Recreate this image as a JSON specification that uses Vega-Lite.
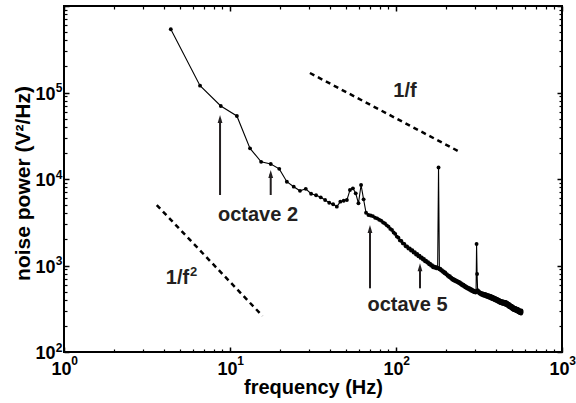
{
  "$schema": "https://vega.github.io/schema/vega-lite/v6.json",
  "width": 498,
  "height": 346,
  "autosize": {"type": "none"},
  "padding": {"left": 64, "top": 6, "right": 14, "bottom": 51},
  "background": "white",
  "config": {
    "view": {"stroke": "black", "strokeWidth": 2},
    "font": "Liberation Sans",
    "axis": {"grid": false, "domain": false, "labelColor": "black", "titleColor": "black", "tickColor": "black", "labelFont": "Liberation Sans", "titleFont": "Liberation Sans"}
  },
  "resolve": {"axis": {"x": "independent", "y": "independent"}},
  "datasets": {
    "spectrum": [
      {"f": 4.4, "p": 538000}, {"f": 6.6, "p": 120000}, {"f": 8.8, "p": 69800}, {"f": 11, "p": 53500},
      {"f": 13.2, "p": 22600}, {"f": 15.4, "p": 15800}, {"f": 17.6, "p": 14900}, {"f": 19.8, "p": 13100},
      {"f": 22, "p": 9300}, {"f": 24.2, "p": 8150}, {"f": 26.4, "p": 7300}, {"f": 28.6, "p": 7700},
      {"f": 30.8, "p": 6760}, {"f": 33, "p": 6480}, {"f": 35.2, "p": 6140}, {"f": 37.4, "p": 5710},
      {"f": 39.6, "p": 5320}, {"f": 41.8, "p": 5100}, {"f": 44, "p": 4790}, {"f": 46.2, "p": 5470},
      {"f": 48.4, "p": 5610}, {"f": 50.6, "p": 5710}, {"f": 52.8, "p": 7460}, {"f": 55, "p": 7800},
      {"f": 57.2, "p": 6830}, {"f": 59.4, "p": 5240}, {"f": 61.6, "p": 8530}, {"f": 63.8, "p": 5820},
      {"f": 66, "p": 4070}, {"f": 68.2, "p": 3830}, {"f": 70.4, "p": 3790}, {"f": 72.6, "p": 3720},
      {"f": 74.8, "p": 3560}, {"f": 77, "p": 3500}, {"f": 79.2, "p": 3380}, {"f": 81.4, "p": 3300},
      {"f": 83.6, "p": 3140}, {"f": 85.8, "p": 3060}, {"f": 88, "p": 2910}, {"f": 90.2, "p": 2810},
      {"f": 92.4, "p": 2650}, {"f": 94.6, "p": 2570}, {"f": 96.8, "p": 2410}, {"f": 99, "p": 2320},
      {"f": 101.2, "p": 2160}, {"f": 103.4, "p": 2100}, {"f": 105.6, "p": 1950}, {"f": 107.8, "p": 1920},
      {"f": 110, "p": 1800}, {"f": 112.2, "p": 1780}, {"f": 114.4, "p": 1670}, {"f": 116.6, "p": 1660},
      {"f": 118.8, "p": 1570}, {"f": 121, "p": 1580}, {"f": 123.2, "p": 1490}, {"f": 125.4, "p": 1500},
      {"f": 127.6, "p": 1410}, {"f": 129.8, "p": 1430}, {"f": 132, "p": 1340}, {"f": 134.2, "p": 1360},
      {"f": 136.4, "p": 1280}, {"f": 138.6, "p": 1300}, {"f": 140.8, "p": 1225}, {"f": 143, "p": 1240},
      {"f": 145.2, "p": 1170}, {"f": 147.4, "p": 1190}, {"f": 149.6, "p": 1120}, {"f": 151.8, "p": 1135},
      {"f": 154, "p": 1080}, {"f": 156.2, "p": 1090}, {"f": 158.4, "p": 1035}, {"f": 160.6, "p": 1050},
      {"f": 162.8, "p": 995}, {"f": 165, "p": 1010}, {"f": 167.2, "p": 955}, {"f": 169.4, "p": 975},
      {"f": 171.6, "p": 940}, {"f": 173.8, "p": 960}, {"f": 176, "p": 925}, {"f": 178.2, "p": 945},
      {"f": 180.4, "p": 13600}, {"f": 182.6, "p": 905}, {"f": 184.8, "p": 920}, {"f": 187, "p": 875},
      {"f": 189.2, "p": 885}, {"f": 191.4, "p": 845}, {"f": 193.6, "p": 855}, {"f": 195.8, "p": 815},
      {"f": 198, "p": 830}, {"f": 200.2, "p": 790}, {"f": 202.4, "p": 795}, {"f": 204.6, "p": 760},
      {"f": 206.8, "p": 770}, {"f": 209, "p": 735}, {"f": 211.2, "p": 750}, {"f": 213.4, "p": 715},
      {"f": 215.6, "p": 725}, {"f": 217.8, "p": 690}, {"f": 220, "p": 705}, {"f": 222.2, "p": 675},
      {"f": 224.4, "p": 690}, {"f": 226.6, "p": 660}, {"f": 228.8, "p": 675}, {"f": 231, "p": 650},
      {"f": 233.2, "p": 665}, {"f": 235.4, "p": 640}, {"f": 237.6, "p": 650}, {"f": 239.8, "p": 625},
      {"f": 242, "p": 640}, {"f": 244.2, "p": 610}, {"f": 246.4, "p": 625}, {"f": 248.6, "p": 595},
      {"f": 250.8, "p": 610}, {"f": 253, "p": 585}, {"f": 255.2, "p": 600}, {"f": 257.4, "p": 570},
      {"f": 259.6, "p": 585}, {"f": 261.8, "p": 558}, {"f": 264, "p": 572}, {"f": 266.2, "p": 548},
      {"f": 268.4, "p": 560}, {"f": 270.6, "p": 540}, {"f": 272.8, "p": 552}, {"f": 275, "p": 530},
      {"f": 277.2, "p": 545}, {"f": 279.4, "p": 522}, {"f": 281.6, "p": 535}, {"f": 283.8, "p": 512},
      {"f": 286, "p": 528}, {"f": 288.2, "p": 505}, {"f": 290.4, "p": 518}, {"f": 292.6, "p": 498},
      {"f": 294.8, "p": 512}, {"f": 297, "p": 492}, {"f": 299.2, "p": 505}, {"f": 301.4, "p": 488},
      {"f": 303.6, "p": 500}, {"f": 305.8, "p": 1770}, {"f": 308, "p": 798}, {"f": 310.2, "p": 520},
      {"f": 312.4, "p": 498}, {"f": 314.6, "p": 505}, {"f": 316.8, "p": 478}, {"f": 319, "p": 492},
      {"f": 321.2, "p": 470}, {"f": 323.4, "p": 485}, {"f": 325.6, "p": 462}, {"f": 327.8, "p": 480},
      {"f": 330, "p": 458}, {"f": 332.2, "p": 475}, {"f": 334.4, "p": 452}, {"f": 336.6, "p": 472},
      {"f": 338.8, "p": 448}, {"f": 341, "p": 470}, {"f": 343.2, "p": 445}, {"f": 345.4, "p": 465},
      {"f": 347.6, "p": 440}, {"f": 349.8, "p": 462}, {"f": 352, "p": 436}, {"f": 354.2, "p": 458},
      {"f": 356.4, "p": 432}, {"f": 358.6, "p": 455}, {"f": 360.8, "p": 428}, {"f": 363, "p": 450},
      {"f": 365.2, "p": 425}, {"f": 367.4, "p": 448}, {"f": 369.6, "p": 420}, {"f": 371.8, "p": 445},
      {"f": 374, "p": 415}, {"f": 376.2, "p": 440}, {"f": 378.4, "p": 412}, {"f": 380.6, "p": 435},
      {"f": 382.8, "p": 408}, {"f": 385, "p": 430}, {"f": 387.2, "p": 405}, {"f": 389.4, "p": 428},
      {"f": 391.6, "p": 400}, {"f": 393.8, "p": 422}, {"f": 396, "p": 396}, {"f": 398.2, "p": 420},
      {"f": 400.4, "p": 392}, {"f": 402.6, "p": 414}, {"f": 404.8, "p": 388}, {"f": 407, "p": 410},
      {"f": 409.2, "p": 384}, {"f": 411.4, "p": 405}, {"f": 413.6, "p": 380}, {"f": 415.8, "p": 402},
      {"f": 418, "p": 376}, {"f": 420.2, "p": 398}, {"f": 422.4, "p": 370}, {"f": 424.6, "p": 392},
      {"f": 426.8, "p": 368}, {"f": 429, "p": 390}, {"f": 431.2, "p": 366}, {"f": 433.4, "p": 388},
      {"f": 435.6, "p": 364}, {"f": 437.8, "p": 385}, {"f": 440, "p": 362}, {"f": 442.2, "p": 383},
      {"f": 444.4, "p": 360}, {"f": 446.6, "p": 382}, {"f": 448.8, "p": 358}, {"f": 451, "p": 380},
      {"f": 453.2, "p": 355}, {"f": 455.4, "p": 378}, {"f": 457.6, "p": 352}, {"f": 459.8, "p": 376},
      {"f": 462, "p": 350}, {"f": 464.2, "p": 374}, {"f": 466.4, "p": 346}, {"f": 468.6, "p": 370},
      {"f": 470.8, "p": 342}, {"f": 473, "p": 364}, {"f": 475.2, "p": 336}, {"f": 477.4, "p": 360},
      {"f": 479.6, "p": 333}, {"f": 481.8, "p": 356}, {"f": 484, "p": 330}, {"f": 486.2, "p": 352},
      {"f": 488.4, "p": 326}, {"f": 490.6, "p": 346}, {"f": 492.8, "p": 322}, {"f": 495, "p": 342},
      {"f": 497.2, "p": 318}, {"f": 499.4, "p": 340}, {"f": 501.6, "p": 314}, {"f": 503.8, "p": 336},
      {"f": 506, "p": 310}, {"f": 508.2, "p": 332}, {"f": 510.4, "p": 308}, {"f": 512.6, "p": 328},
      {"f": 514.8, "p": 306}, {"f": 517, "p": 326}, {"f": 519.2, "p": 303}, {"f": 521.4, "p": 324},
      {"f": 523.6, "p": 301}, {"f": 525.8, "p": 320}, {"f": 528, "p": 300}, {"f": 530.2, "p": 318},
      {"f": 532.4, "p": 298}, {"f": 534.6, "p": 316}, {"f": 536.8, "p": 295}, {"f": 539, "p": 314},
      {"f": 541.2, "p": 292}, {"f": 543.4, "p": 312}, {"f": 545.6, "p": 290}, {"f": 547.8, "p": 310},
      {"f": 550, "p": 287}, {"f": 552.2, "p": 306}, {"f": 554.4, "p": 284}, {"f": 556.6, "p": 303},
      {"f": 558.8, "p": 282}, {"f": 561, "p": 300}, {"f": 563.2, "p": 280}, {"f": 565.4, "p": 298},
      {"f": 567.6, "p": 278}, {"f": 569.8, "p": 302}, {"f": 572, "p": 290}
    ],
    "slopes": [
      {"g": "1/f", "f": 30.3, "p": 168000}, {"g": "1/f", "f": 236, "p": 21100},
      {"g": "1/f2", "f": 3.62, "p": 5000}, {"g": "1/f2", "f": 15.7, "p": 261}
    ],
    "arrows": [
      {"f": 8.71, "base": 6530, "head": 49400},
      {"f": 17.59, "base": 6530, "head": 11430},
      {"f": 69.7, "base": 545, "head": 2642},
      {"f": 139.5, "base": 545, "head": 953}
    ],
    "labels": [
      {"label": "octave 2", "f": 14.75, "p": 3266},
      {"label": "octave 5", "f": 117.3, "p": 294},
      {"label": "1/f", "f": 113.3, "p": 89300},
      {"label": "1/f", "f": 4.83, "p": 607}
    ],
    "exponents": [
      {"label": "2", "f": 6.03, "p": 757}
    ]
  },
  "layer": [
    {
      "data": {"name": "spectrum"},
      "mark": {"type": "line", "color": "black", "strokeWidth": 1.1},
      "encoding": {
        "x": {"field": "f", "type": "quantitative", "scale": {"type": "log", "domain": [1, 1000], "nice": false},
          "axis": {"orient": "bottom", "values": [1, 10, 100, 1000], "ticks": false, "labelExpr": "'10'",
            "labelFontSize": 18, "labelFontWeight": "bold", "labelPadding": 8, "labelOffset": -3, "labelBaseline": "top", "labelFlush": false, "labelOverlap": false, "labelBound": false,
            "title": "frequency (Hz)", "titleFontSize": 20, "titleFontWeight": "bold", "titleX": 249, "titleY": 41, "titleBaseline": "alphabetic", "titleAlign": "center"}},
        "y": {"field": "p", "type": "quantitative", "scale": {"type": "log", "domain": [100, 1000000], "nice": false},
          "axis": {"orient": "left", "values": [100, 1000, 10000, 100000], "ticks": false, "labelExpr": "'10'",
            "labelFontSize": 18, "labelFontWeight": "bold", "labelPadding": 9, "labelOffset": 1.5, "labelBaseline": "middle", "labelAlign": "right", "labelFlush": false, "labelOverlap": false, "labelBound": false,
            "title": "noise power (V²/Hz)", "titleFontSize": 21, "titleFontWeight": "bold", "titleX": -35, "titleY": 177, "titleAngle": -90, "titleBaseline": "alphabetic", "titleAlign": "center"}}
      }
    },
    {
      "data": {"name": "spectrum"},
      "mark": {"type": "point", "filled": true, "size": 15, "color": "black", "opacity": 1},
      "encoding": {
        "x": {"field": "f", "type": "quantitative", "scale": {"type": "log", "domain": [1, 1000], "nice": false},
          "axis": {"orient": "bottom", "values": [1, 10, 100, 1000], "ticks": false, "labelExpr": "datum.value == 1 ? '0' : datum.value == 10 ? '1' : datum.value == 100 ? '2' : '3'",
            "labelFontSize": 12, "labelFontWeight": "bold", "labelPadding": 3, "labelOffset": 10, "labelBaseline": "top", "labelFlush": false, "labelOverlap": false, "labelBound": false, "title": null}},
        "y": {"field": "p", "type": "quantitative", "scale": {"type": "log", "domain": [100, 1000000], "nice": false},
          "axis": {"orient": "left", "values": [100, 1000, 10000, 100000], "ticks": false, "labelExpr": "datum.value == 100 ? '2' : datum.value == 1000 ? '3' : datum.value == 10000 ? '4' : '5'",
            "labelFontSize": 12, "labelFontWeight": "bold", "labelPadding": 2, "labelOffset": -5, "labelBaseline": "middle", "labelAlign": "right", "labelFlush": false, "labelOverlap": false, "labelBound": false, "title": null}}
      }
    },
    {
      "data": {"name": "slopes"},
      "mark": {"type": "line", "color": "black", "strokeWidth": 2.5, "strokeDash": [5, 4]},
      "encoding": {
        "x": {"field": "f", "type": "quantitative", "scale": {"type": "log", "domain": [1, 1000], "nice": false},
          "axis": {"orient": "bottom", "values": [1, 10, 100, 1000], "labels": false, "tickSize": -5, "tickWidth": 1.5, "title": null}},
        "y": {"field": "p", "type": "quantitative", "scale": {"type": "log", "domain": [100, 1000000], "nice": false},
          "axis": {"orient": "left", "values": [100, 1000, 10000, 100000, 1000000], "labels": false, "tickSize": -5, "tickWidth": 1.5, "title": null}},
        "detail": {"field": "g"}
      }
    },
    {
      "data": {"name": "arrows"},
      "mark": {"type": "rule", "color": "#231f20", "strokeWidth": 2},
      "encoding": {
        "x": {"field": "f", "type": "quantitative", "scale": {"type": "log", "domain": [1, 1000], "nice": false},
          "axis": {"orient": "bottom", "values": [2, 3, 4, 5, 6, 7, 8, 9, 20, 30, 40, 50, 60, 70, 80, 90, 200, 300, 400, 500, 600, 700, 800, 900], "labels": false, "tickSize": -3, "tickWidth": 1.2, "title": null}},
        "y": {"field": "base", "type": "quantitative", "scale": {"type": "log", "domain": [100, 1000000], "nice": false},
          "axis": {"orient": "left", "values": [200, 300, 400, 500, 600, 700, 800, 900, 2000, 3000, 4000, 5000, 6000, 7000, 8000, 9000, 20000, 30000, 40000, 50000, 60000, 70000, 80000, 90000, 200000, 300000, 400000, 500000, 600000, 700000, 800000, 900000], "labels": false, "tickSize": -3, "tickWidth": 1.2, "title": null}},
        "y2": {"field": "head"}
      }
    },
    {
      "data": {"name": "arrows"},
      "mark": {"type": "point", "shape": "M0,-1L-0.6,1L0.6,1Z", "filled": true, "color": "#231f20", "size": 64, "opacity": 1},
      "encoding": {
        "x": {"field": "f", "type": "quantitative", "scale": {"type": "log", "domain": [1, 1000], "nice": false},
          "axis": {"orient": "top", "values": [1, 10, 100, 1000], "labels": false, "tickSize": -5, "tickWidth": 1.5, "title": null}},
        "y": {"field": "head", "type": "quantitative", "scale": {"type": "log", "domain": [100, 1000000], "nice": false},
          "axis": {"orient": "right", "values": [100, 1000, 10000, 100000, 1000000], "labels": false, "tickSize": -5, "tickWidth": 1.5, "title": null}}
      }
    },
    {
      "data": {"name": "labels"},
      "mark": {"type": "text", "font": "Liberation Sans", "fontWeight": "bold", "fontSize": 20, "align": "center", "baseline": "alphabetic", "color": "#231f20"},
      "encoding": {
        "x": {"field": "f", "type": "quantitative", "scale": {"type": "log", "domain": [1, 1000], "nice": false},
          "axis": {"orient": "top", "values": [2, 3, 4, 5, 6, 7, 8, 9, 20, 30, 40, 50, 60, 70, 80, 90, 200, 300, 400, 500, 600, 700, 800, 900], "labels": false, "tickSize": -3, "tickWidth": 1.2, "title": null}},
        "y": {"field": "p", "type": "quantitative", "scale": {"type": "log", "domain": [100, 1000000], "nice": false},
          "axis": {"orient": "right", "values": [200, 300, 400, 500, 600, 700, 800, 900, 2000, 3000, 4000, 5000, 6000, 7000, 8000, 9000, 20000, 30000, 40000, 50000, 60000, 70000, 80000, 90000, 200000, 300000, 400000, 500000, 600000, 700000, 800000, 900000], "labels": false, "tickSize": -3, "tickWidth": 1.2, "title": null}},
        "text": {"field": "label"}
      }
    },
    {
      "data": {"name": "exponents"},
      "mark": {"type": "text", "font": "Liberation Sans", "fontWeight": "bold", "fontSize": 13, "align": "center", "baseline": "alphabetic", "color": "#231f20"},
      "encoding": {
        "x": {"field": "f", "type": "quantitative", "scale": {"type": "log", "domain": [1, 1000], "nice": false}, "axis": null},
        "y": {"field": "p", "type": "quantitative", "scale": {"type": "log", "domain": [100, 1000000], "nice": false}, "axis": null},
        "text": {"field": "label"}
      }
    }
  ]
}
